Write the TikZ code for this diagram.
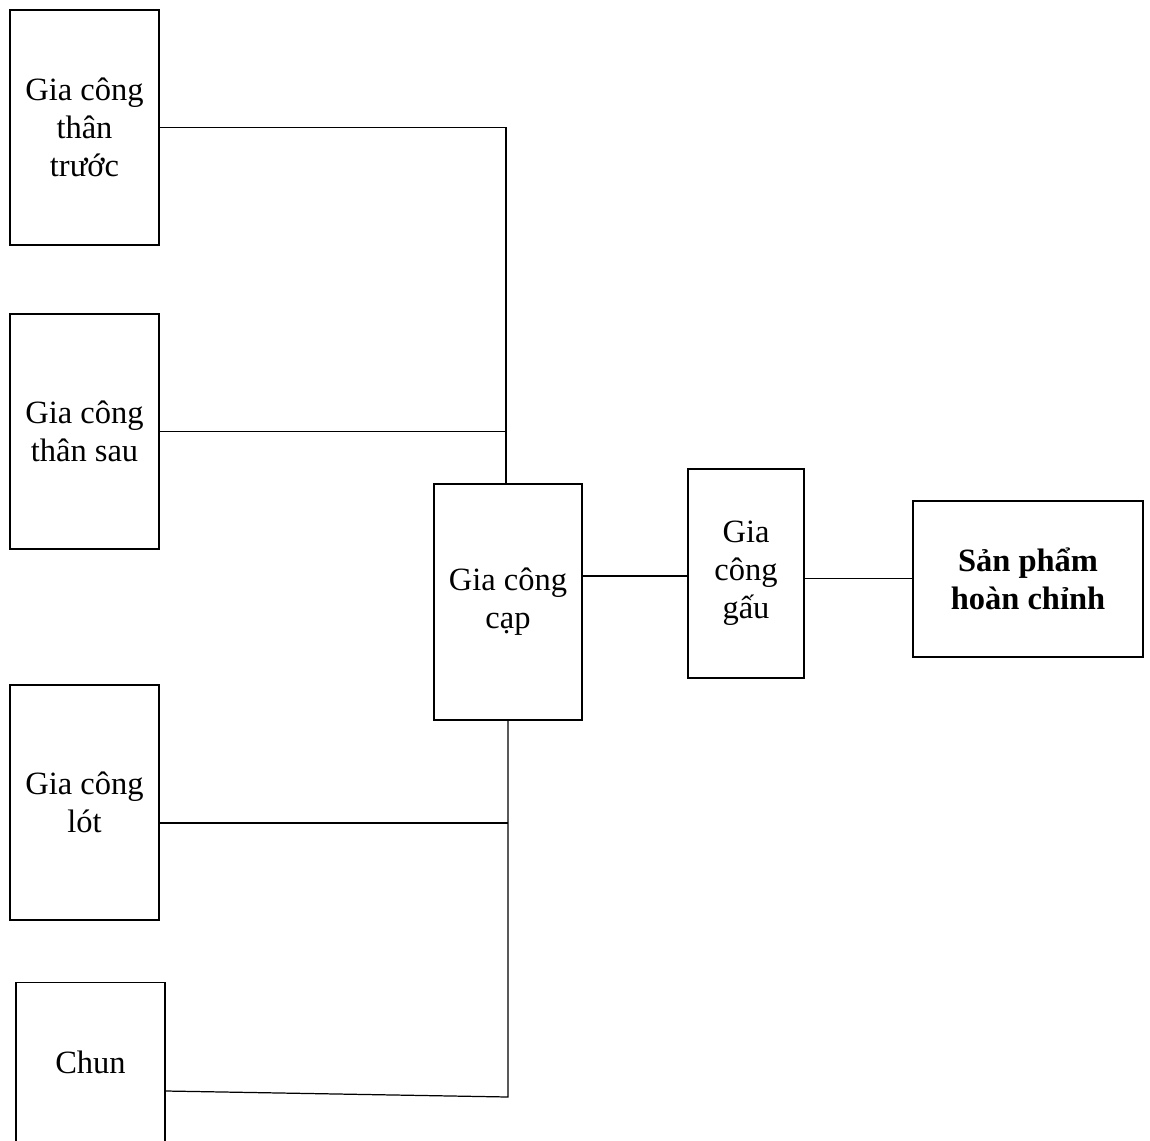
\documentclass[tikz,border=0pt]{standalone}
\usepackage{fontspec}
\setmainfont{Liberation Serif}
\usepackage{tikz}
\usetikzlibrary{calc}

\begin{document}
\begin{tikzpicture}[
  x=0.02cm, y=-0.02cm,
  every node/.style={font=\fontsize{18.5}{21.5}\selectfont, text=black},
  stage/.style={
    draw=black,
    line width=0.7pt,
    minimum width=2.98cm,
    minimum height=4.7cm,
    align=center,
    inner sep=2pt,
  },
  link/.style={
    line width=0.7pt,
    draw=black,
  },
]
  \useasboundingbox (0,0) rectangle (1150,1140);

  \node[stage] (thantruoc) at (84.5,127.5) {Gia công\\thân\\trước};
  \node[stage] (thansau) at (84.5,431.5) {Gia công\\thân sau};
  \node[stage] (lot) at (84.5,802.5) {Gia công\\lót};
  \node[stage, minimum height=3.2cm] (chun) at (90.5,1062.5) {Chun};
  \node[stage, minimum width=2.96cm, minimum height=4.72cm] (cap) at (508,602) {Gia công\\cạp};
  \node[stage, minimum width=2.32cm, minimum height=4.18cm] (gau) at (746,573.5) {Gia\\công\\gấu};
  \node[stage, minimum width=4.6cm, minimum height=3.12cm,
        font=\fontsize{18.5}{21.5}\selectfont\bfseries] (sanpham) at (1028,579) {Sản phẩm\\hoàn chỉnh};

  % nhanh tren
  \coordinate (topjoin) at ($(cap.north)+(-2,0)$);
  \draw[link] (thantruoc.east) -| (topjoin);
  \draw[link] (thansau.east) -- (thansau.east -| topjoin);

  % nhanh duoi
  \coordinate (chunjoin) at (510,1097);
  \draw[link] (cap.south) -- (cap.south |- chunjoin) -- (chun.east |- 0,1091);
  \draw[link] (lot.east |- 0,823) -- (cap.south |- 0,823);

  \draw[link] (cap.east |- 0,576) -- (gau.west |- 0,576);
  \draw[line width=0.5pt] (gau.east |- 0,578) -- (sanpham.west |- 0,578);
\end{tikzpicture}
\end{document}
